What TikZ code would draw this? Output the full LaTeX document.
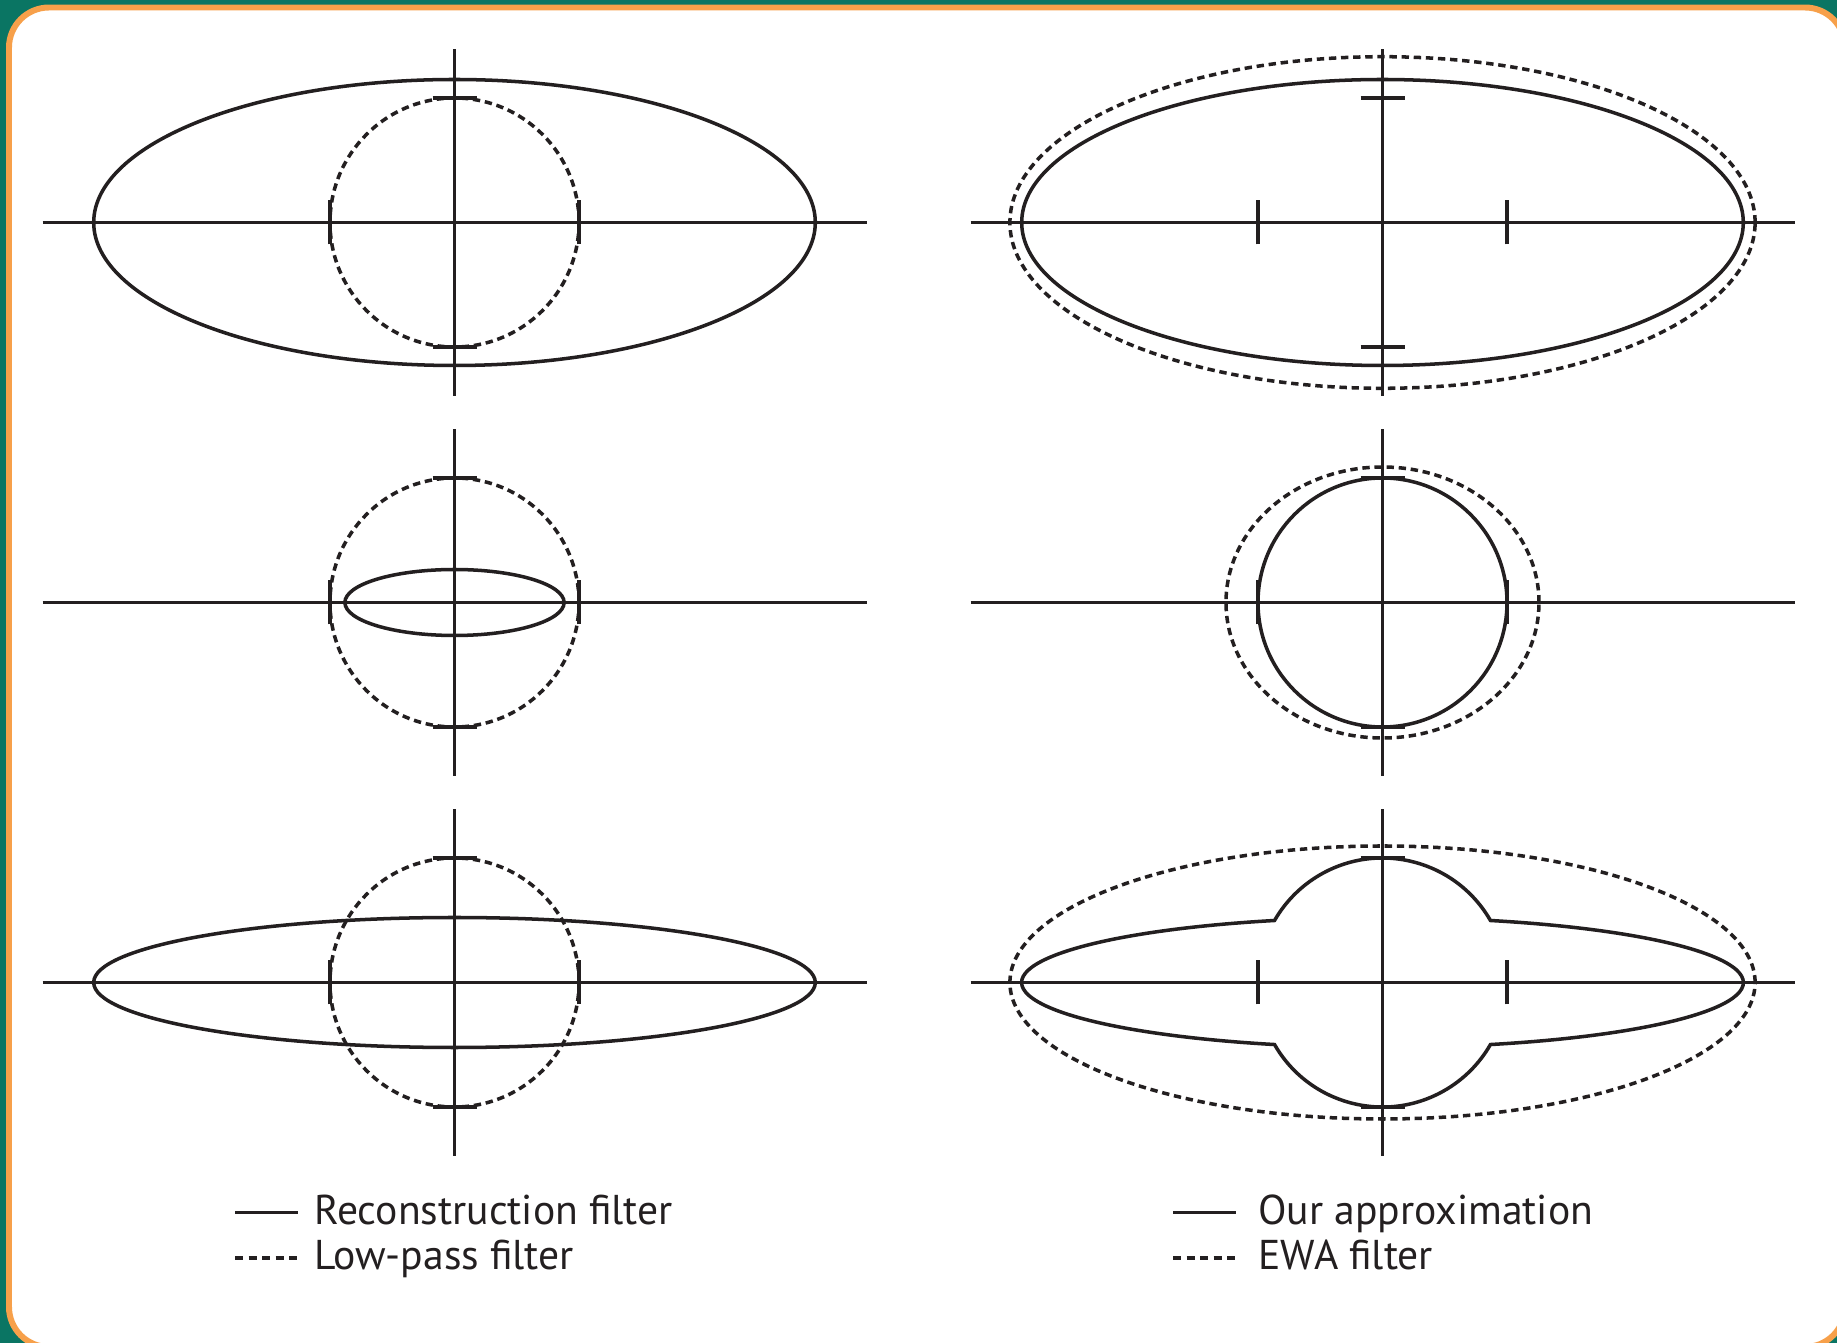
\documentclass[tikz,border=0pt]{standalone}
\usepackage{fontspec}
\setmainfont{PT Sans}
\usetikzlibrary{positioning,calc}
\definecolor{ink}    {HTML}{231F20}
\definecolor{bggreen}{HTML}{0A7563}
\definecolor{rim}    {HTML}{F7A04A}
\tikzset{
  % --- curves
  solidln/.style = {draw=ink, line width=2pt},
  dashln/.style  = {solidln, dash pattern=on 4.2pt off 2.7pt},
  axisln/.style  = {draw=ink, line width=1.9pt},
  % --- legend
  legtxt/.style  = {font=\fontsize{23.7}{28}\selectfont, text=ink, inner sep=0pt,
                    anchor=base west},
}
\begin{document}
\begin{tikzpicture}[x=0.02cm,y=0.02cm]
  \useasboundingbox (0,0) rectangle (1837,1343);
  \clip (0,0) rectangle (1837,1343);
  \fill[bggreen] (0,0) rectangle (1837,1343);
  \draw[rim, line width=3.4pt, fill=white, rounded corners=0.8cm]
    (9,-4) rectangle (1845,1335.5);

  % panel centres
  \coordinate (L1) at (454.5,1120.5); \coordinate (R1) at (1382.5,1120.5);
  \coordinate (L2) at (454.5,740.5);  \coordinate (R2) at (1382.5,740.5);
  \coordinate (L3) at (454.5,360.5);  \coordinate (R3) at (1382.5,360.5);

  % axes and ticks at the low-pass radius
  \foreach \c in {L1,L2,L3,R1,R2,R3}{
    \begin{scope}[shift={(\c)}]
      \draw[axisln] (-412,0) -- (412,0) (0,-173.5) -- (0,173.5);
      \draw[solidln] (-124.5,-22) -- (-124.5,22) (124.5,-22) -- (124.5,22)
                     (-22,124.5) -- (22,124.5) (-22,-124.5) -- (22,-124.5);
    \end{scope}
  }

  % left column: reconstruction and low-pass filters
  \draw[solidln] (L1) ellipse[x radius=360.8, y radius=143];
  \draw[solidln] (L2) ellipse[x radius=109.6, y radius=33];
  \draw[solidln] (L3) ellipse[x radius=360.8, y radius=65];
  \foreach \c in {L1,L2,L3}
    \draw[dashln] (\c) circle[radius=124.5];

  % right column: approximation and EWA filter
  \draw[solidln] (R1) ellipse[x radius=360.8, y radius=143];
  \draw[dashln]  (R1) ellipse[x radius=372.6, y radius=165.8];
  \draw[solidln] (R2) circle[radius=124.5];
  \draw[dashln]  (R2) ellipse[x radius=156.5, y radius=135.5];
  \draw[solidln] ($(R3)+(107.95,62)$)
      arc[start angle=29.87, end angle=150.13, radius=124.5]
      arc[start angle=107.41, end angle=252.59, x radius=360.8, y radius=65]
      arc[start angle=209.87, end angle=330.13, radius=124.5]
      arc[start angle=287.41, end angle=432.59, x radius=360.8, y radius=65]
      -- cycle;
  \draw[dashln]  (R3) ellipse[x radius=372.6, y radius=136.5];

  % legends
  \node[legtxt] (recon)   at (314,118)  {Reconstruction filter};
  \node[legtxt] (lowpass) at (314,73)   {Low-pass filter};
  \node[legtxt] (approx)  at (1258,118) {Our approximation};
  \node[legtxt] (ewa)     at (1258,73)  {EWA filter};
  \draw[solidln] (235,130.3) -- (298,130.3);
  \draw[solidln, dash pattern=on 4.7pt off 3pt] (235,85) -- (298,85);
  \draw[solidln] (1173,130.3) -- (1236,130.3);
  \draw[solidln, dash pattern=on 4.7pt off 3pt] (1173,85) -- (1236,85);
\end{tikzpicture}
\end{document}
